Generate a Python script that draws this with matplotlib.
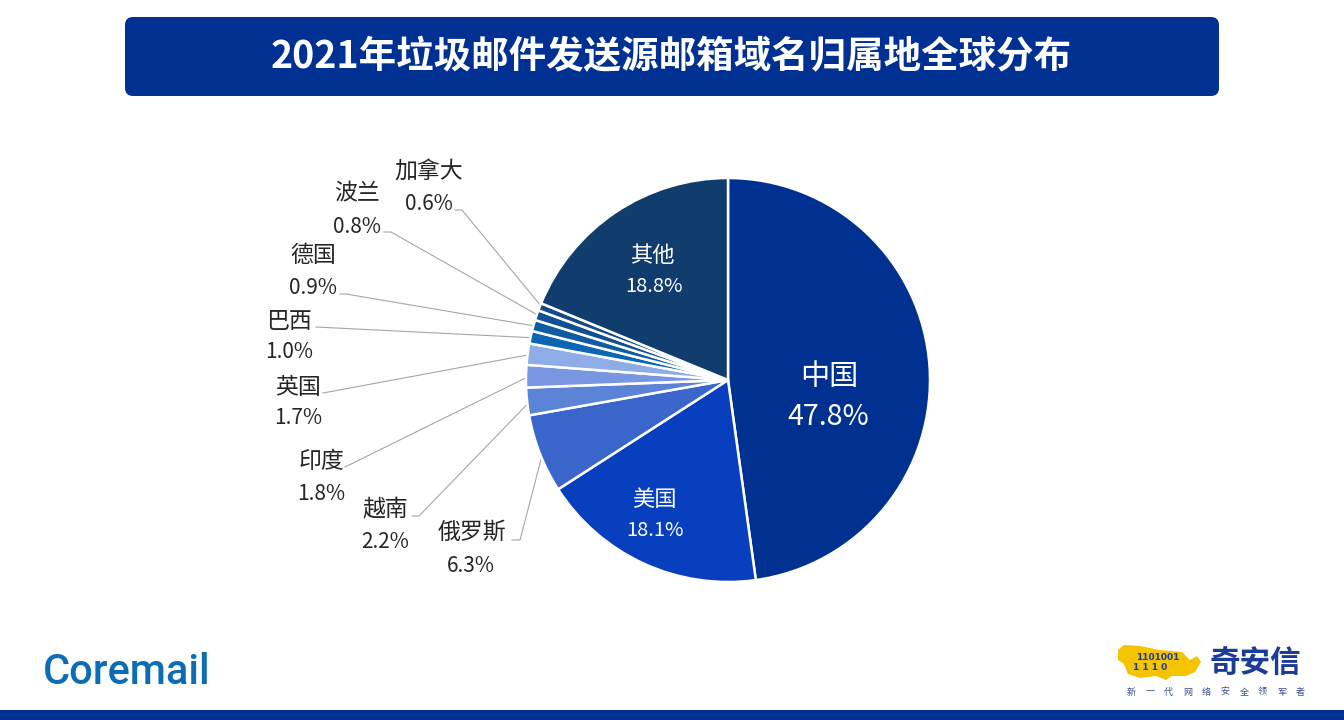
import matplotlib
matplotlib.use('Agg')
import matplotlib.pyplot as plt
from matplotlib.patches import FancyBboxPatch, Rectangle, Polygon
import numpy as np

plt.rcParams['font.family'] = ['Noto Sans CJK SC', 'DejaVu Sans']

# 数据：按顺时针从12点方向开始
countries = ['中国', '美国', '俄罗斯', '越南', '印度', '英国', '巴西', '德国', '波兰', '加拿大', '其他']
shares = [47.8, 18.1, 6.3, 2.2, 1.8, 1.7, 1.0, 0.9, 0.8, 0.6, 18.8]
colors = ['#003191', '#083fbf', '#3a66cc', '#5b84d6', '#7997e0', '#8eace6',
          '#0a66b2', '#0e5ba2', '#105094', '#134a88', '#103c6e']

title = '2021年垃圾邮件发送源邮箱域名归属地全球分布'
tagline = '新一代网络安全领军者'

# 外部标签位置 (名称中心, 百分比中心, 引线起点)
outer_pos = {
    '俄罗斯': ((472, 532), (471, 566), [(512, 540), (520, 540)]),
    '越南': ((385, 509), (385, 542), [(412, 516), (419, 516)]),
    '印度': ((321, 462), (321, 494), [(345, 467)]),
    '英国': ((298, 387), (298, 418), [(323, 393)]),
    '巴西': ((289, 321), (289, 352), [(316, 327)]),
    '德国': ((313, 255), (313, 288), [(340, 294), (346, 294)]),
    '波兰': ((357, 194), (357, 227), [(384, 232), (391, 232)]),
    '加拿大': ((429, 171), (429, 204), [(455, 210), (462, 210)]),
}
inner_pos = {
    '中国': ((829, 377), (828, 417), 21, 20.5),
    '美国': ((654, 499), (655, 530), 16, 14.5),
    '其他': ((652, 255), (654, 287), 16, 14.5),
}

W, H = 1344, 720
fig = plt.figure(figsize=(W / 100, H / 100), dpi=100)
ax = fig.add_axes([0, 0, 1, 1])

# 饼图
cx, cy, r = 728, 380, 202
wedges, _ = ax.pie(shares, colors=colors, startangle=-90, counterclock=True,
                   center=(cx, cy), radius=r, frame=True,
                   wedgeprops=dict(edgecolor='white', linewidth=1.8))
ax.set_xlim(0, W)
ax.set_ylim(H, 0)
ax.set_aspect('equal')
ax.axis('off')

# 标题横幅
banner = FancyBboxPatch((125, 17), 1094, 79, boxstyle='round,pad=0,rounding_size=8',
                        fc='#003092', ec='none')
ax.add_patch(banner)
ax.text(671, 57, title, color='white', fontsize=27, fontweight='bold',
        ha='center', va='center')

for w, name, val in zip(wedges, countries, shares):
    pct = f'{val:.1f}%'
    if name in inner_pos:
        (nx, ny), (px, py), fs1, fs2 = inner_pos[name]
        ax.text(nx, ny, name, color='white', fontsize=fs1, ha='center', va='center')
        ax.text(px, py, pct, color='white', fontsize=fs2, ha='center', va='center')
    else:
        (nx, ny), (px, py), pts = outer_pos[name]
        ax.text(nx, ny, name, color='#262626', fontsize=16.5, ha='center', va='center')
        ax.text(px, py, pct, color='#262626', fontsize=15, ha='center', va='center')
        mid = np.deg2rad((w.theta1 + w.theta2) / 2)
        ex, ey = cx + r * 0.985 * np.cos(mid), cy + r * 0.985 * np.sin(mid)
        xs = [p[0] for p in pts] + [ex]
        ys = [p[1] for p in pts] + [ey]
        ax.plot(xs, ys, color='#a6a6a6', lw=0.8, zorder=0.5)

# 底部蓝条
ax.add_patch(Rectangle((0, 710), W, 10, fc='#003092', ec='none'))

# Coremail 标志
ax.text(43, 672, 'Coremail', color='#0a6db5', fontsize=30, family='Roboto',
        fontweight='medium', ha='left', va='center')

# 奇安信 标志
tiger = Polygon([(1118, 650), (1124, 645), (1140, 646), (1160, 650), (1182, 652),
                 (1190, 660), (1197, 656), (1201, 662), (1195, 672), (1186, 676),
                 (1172, 676), (1166, 680), (1156, 676), (1140, 678), (1128, 674),
                 (1124, 664), (1118, 660)], closed=True, fc='#f5c400', ec='none')
ax.add_patch(tiger)
ax.text(1158, 657, '1101001', color='#1a3c96', fontsize=6.5, fontweight='bold',
        ha='center', va='center', family='DejaVu Sans')
ax.text(1150, 668, '1 1 1 0', color='#1a3c96', fontsize=6.5, fontweight='bold',
        ha='center', va='center', family='DejaVu Sans')
ax.text(1255, 663, '奇安信', color='#1a3c96', fontsize=22, fontweight='bold',
        ha='center', va='center')
for i, ch in enumerate(tagline):
    ax.text(1131 + i * 18.8, 692, ch, color='#3a4f8f', fontsize=6.5,
            ha='center', va='center')

fig.savefig('out.png', dpi=100)
